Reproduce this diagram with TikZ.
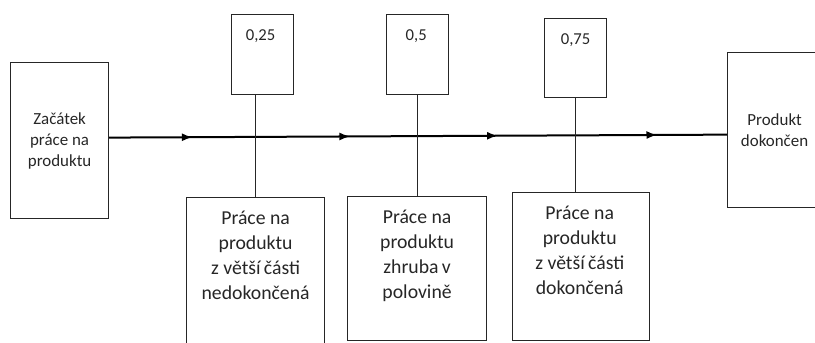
\documentclass[tikz,border=0pt]{standalone}
\usepackage{fontspec}
\setmainfont{Carlito}
\usetikzlibrary{decorations.markings,arrows.meta}
\begin{document}
\begin{tikzpicture}[x=0.75pt,y=-0.75pt,
  frame/.style={draw=black!85, line width=0.9pt, inner sep=0pt, anchor=north west},
  endbox/.style={frame, align=center, text=black!85,
    font=\fontsize{12.7}{15.75}\selectfont},
  toplabel/.style={anchor=base, inner sep=0pt, text=black!85,
    font=\fontsize{12.5}{14}\selectfont},
  desc/.style={anchor=north, inner sep=0pt, align=center, text=black!85,
    font=\fontsize{14.8}{18.75}\selectfont},
  stem/.style={draw=black!85, line width=0.75pt},
  flow/.style={draw=black, line width=1.5pt,
    postaction={decorate},
    decoration={markings,
      mark=at position 0.135 with {\arrow{Latex[length=8pt,width=6pt]}},
      mark=at position 0.390 with {\arrow{Latex[length=8pt,width=6pt]}},
      mark=at position 0.629 with {\arrow{Latex[length=8pt,width=6pt]}},
      mark=at position 0.887 with {\arrow{Latex[length=8pt,width=6pt]}}}}]
  \useasboundingbox (0,0) rectangle (815,343);
  \clip (0,0) rectangle (815,343);

  % start and end of the process
  \node[endbox, minimum width=73.5pt, minimum height=117pt] (start) at (10,62)
    {Začátek\\práce na\\produktu};
  \node[endbox, minimum width=70.5pt, minimum height=116.25pt] (finish) at (727,52)
    {Produkt\\dokončen};

  % progress ratio boxes
  \node[frame, minimum width=46.5pt, minimum height=60pt] (t1) at (231,14) {};
  \node[frame, minimum width=46.5pt, minimum height=60pt] (t2) at (386,14) {};
  \node[frame, minimum width=46.5pt, minimum height=59.25pt] (t3) at (544,18) {};
  \node[toplabel, yshift=-20pt, xshift=-1.5pt] (l1) at (t1.north) {0,25};
  \node[toplabel, yshift=-20pt, xshift=-1pt] (l2) at (t2.north) {0,5};
  \node[toplabel, yshift=-20pt] (l3) at (t3.north) {0,75};

  % state descriptions
  \node[frame, minimum width=103.5pt, minimum height=122.25pt] (b1) at (186,197) {};
  \node[frame, minimum width=104.25pt, minimum height=108pt] (b2) at (347,196) {};
  \node[frame, minimum width=102.75pt, minimum height=111pt] (b3) at (512,192) {};
  \node[desc, yshift=-10pt] (d1) at (b1.north)
    {Práce na\\produktu\\z větší\,části\\nedokončená};
  \node[desc, yshift=-10pt] (d2) at (b2.north)
    {Práce na\\produktu\\zhruba\,v\\polovině};
  \node[desc, yshift=-10pt, xshift=-1pt] (d3) at (b3.north)
    {Práce na\\produktu\\z větší\,části\\dokončená};

  % main flow line
  \path[flow] ([yshift=2.25pt]start.east) -- ([yshift=-3.4pt]finish.west);

  % stems linking ratios with descriptions
  \draw[stem] (t1.south -| b1.north) -- (b1.north);
  \draw[stem] (t2.south) -- (t2.south |- b2.north);
  \draw[stem] (t3.south) -- (t3.south |- b3.north);
\end{tikzpicture}
\end{document}
